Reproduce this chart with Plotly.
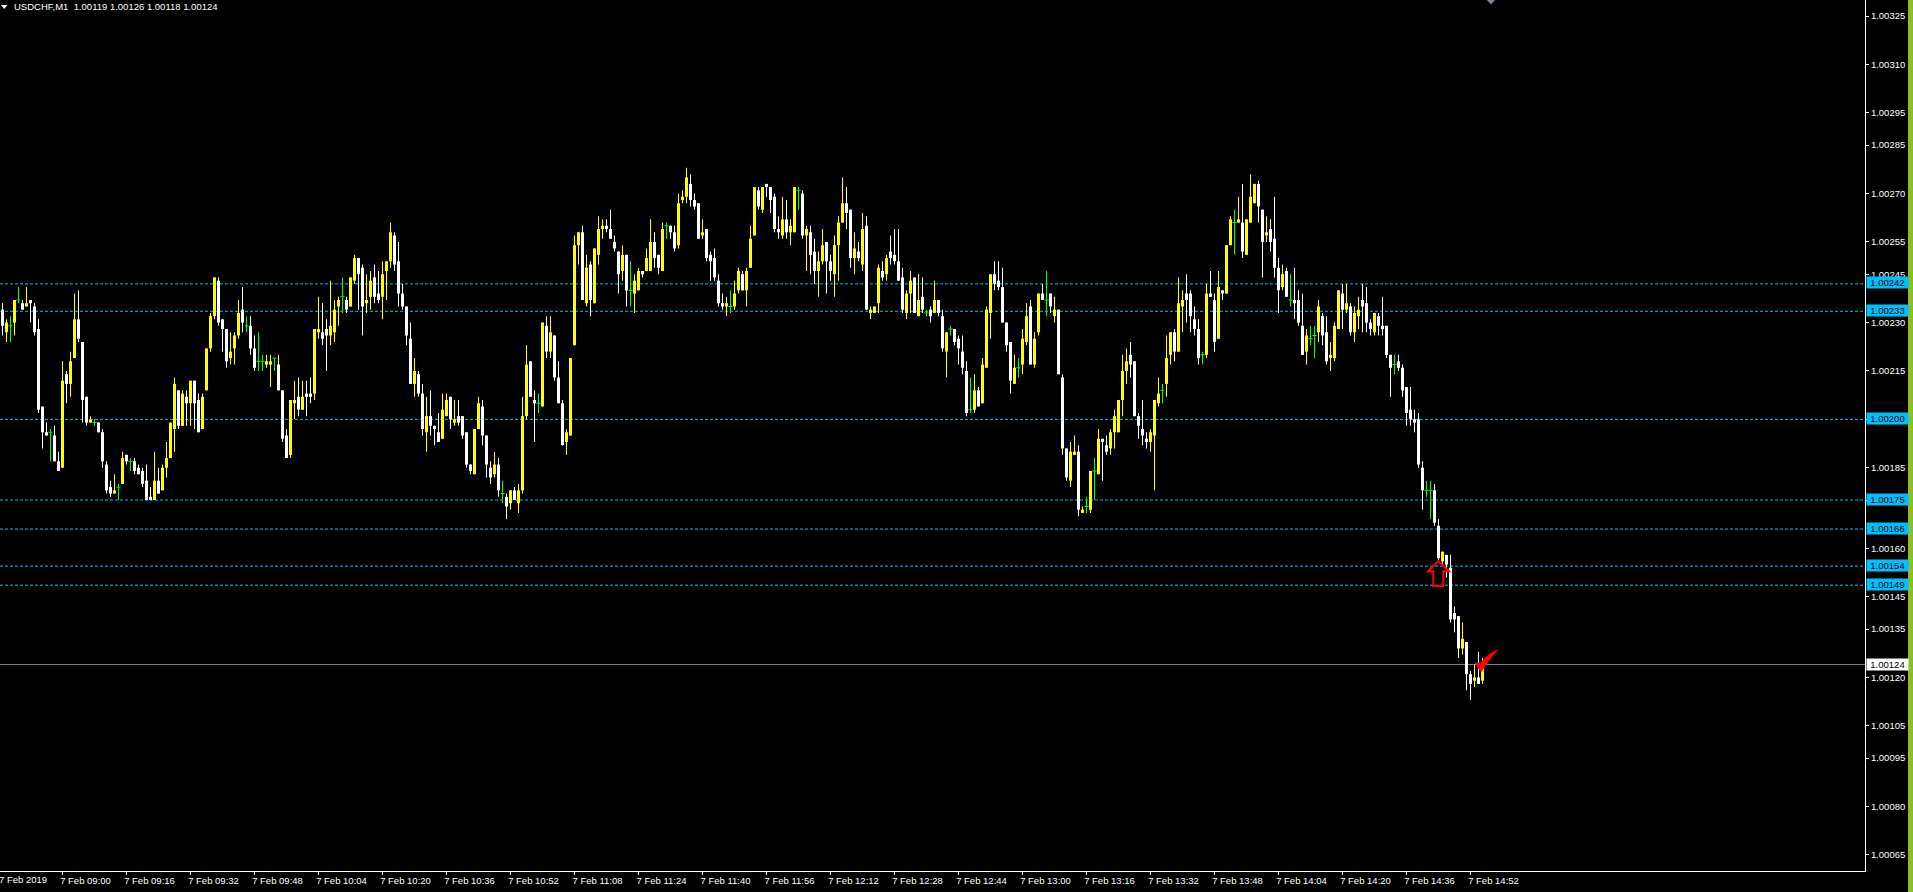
import plotly.graph_objects as go

# Prices in points above 1.00000 (1 point = 0.00001), one value per M1 bar from 08:45
open_pts = [
234,227,229,230,237,236,235,237,235,228, 204,196,196,195,187,185,214,211,219,231,
224,207,199,199,199,196,186,179,177,179, 180,189,187,187,185,184,181,176,175,181,
178,185,188,197,209,198,207,205,212,206, 197,209,222,232,243,231,228,219,222,226,
234,229,229,222,218,218,217,217,219,217, 209,195,189,205,207,203,208,208,208,227,
227,228,226,227,235,238,237,235,243,250, 247,236,238,244,239,238,246,249,257,249,
239,235,225,211,214,208,196,201,198,196, 194,201,207,199,201,201,196,186,183,197,
204,195,185,183,186,177,176,174,178,174, 178,201,218,206,205,204,229,221,226,213,
205,193,195,223,254,258,236,248,236,251, 259,260,259,255,252,246,251,240,239,240,
246,246,246,255,251,246,260,260,258,254, 268,269,273,268,267,257,259,251,250,243,
236,235,235,235,240,245,240,247,257,271, 265,273,272,269,259,257,262,258,258,271,
270,257,258,252,246,249,255,249,245,254, 261,267,265,250,252,248,260,233,233,236,
246,245,252,251,249,244,233,239,244,232, 238,233,234,233,237,232,221,228,228,225,
221,215,203,203,209,205,216,233,245,243, 241,230,224,211,216,217,224,235,217,227,
239,237,239,232,234,213,191,181,189,190, 171,173,172,184,183,194,192,191,196,196,
206,215,220,218,201,197,194,193,195,205, 209,211,220,227,221,235,239,239,231,228,
220,220,239,237,225,240,239,254,261,261, 261,251,261,267,273,265,257,259,256,247,
241,246,237,237,237,229,221,225,226,227, 232,227,219,219,228,239,234,235,227,232,
237,236,230,227,232,229,229,220,217,218, 216,210,203,200,200,185,178,178,178,167,
156,158,154,140,139,129,131,121,119,120,119]
high_pts = [
236,231,232,237,241,237,241,237,236,231, 204,199,197,198,190,218,215,221,239,240,
224,207,201,200,199,197,187,181,183,180, 190,189,188,188,186,185,186,179,190,185,
186,193,199,213,209,209,209,212,212,208, 208,222,233,244,244,231,228,227,227,237,
241,232,232,226,227,220,220,220,219,220, 209,197,206,212,213,212,212,213,228,238,
236,231,243,237,238,244,238,244,251,250, 248,245,246,248,246,249,249,261,258,255,
242,235,230,219,215,211,207,209,198,202, 208,208,207,206,206,201,196,186,197,207,
206,195,187,190,188,181,177,178,179,180, 207,223,218,209,208,230,232,232,226,218,
206,197,219,257,258,260,251,249,253,263, 262,262,265,257,252,254,251,249,245,247,
246,253,262,258,251,261,261,260,260,270, 271,278,276,270,267,262,259,252,253,245,
239,238,240,243,247,246,247,260,272,272, 272,273,272,270,263,269,268,262,272,272,
271,260,260,256,252,259,255,251,257,263, 275,272,265,258,255,264,263,235,235,248,
249,251,257,259,259,247,240,246,244,245, 244,234,235,243,237,234,227,229,228,226,
226,218,213,214,210,219,235,245,249,249, 247,230,224,220,219,228,236,237,227,239,
242,246,239,238,234,214,191,193,195,192, 173,176,184,188,197,194,195,197,203,206,
220,222,224,218,202,206,196,197,206,213, 211,226,227,228,244,240,245,240,235,231,
221,242,246,239,246,240,254,263,265,269, 273,262,276,273,274,265,263,262,269,250,
248,247,245,247,240,239,228,229,229,237, 233,232,224,230,240,242,242,236,235,238,
242,241,231,233,233,238,229,220,220,220, 217,210,210,203,202,187,181,181,180,169,
159,158,158,142,139,137,131,122,124,128,126]
low_pts = [
226,224,224,226,236,234,235,230,226,202, 191,195,187,187,184,185,205,207,219,224,
199,198,199,198,196,185,177,176,177,175, 180,186,184,183,183,179,175,175,175,177,
178,182,188,190,197,198,198,198,197,196, 197,209,221,231,229,221,216,217,217,225,
227,227,220,215,215,215,216,210,215,209, 193,188,188,200,201,203,201,205,206,225,
223,215,223,224,229,233,233,235,242,234, 226,233,234,236,236,231,237,247,246,235,
234,223,211,207,207,195,190,195,192,193, 194,201,197,198,198,194,185,183,183,197,
192,182,180,182,176,174,169,172,175,171, 177,200,207,193,202,204,219,219,212,205,
192,189,195,223,248,237,235,232,236,248, 256,258,256,252,239,243,235,235,233,240,
244,246,246,247,245,246,256,256,252,253, 267,267,266,265,256,256,249,243,243,235,
234,232,233,234,239,240,235,247,257,265, 264,269,264,258,256,256,256,254,258,265,
256,246,245,242,238,248,239,243,238,243, 261,259,247,245,249,246,234,231,233,233,
243,243,248,248,243,233,231,233,233,232, 233,232,230,233,232,221,213,226,223,217,
214,201,202,202,204,205,216,225,240,240, 230,221,208,211,213,214,223,217,216,226,
237,232,233,230,214,189,181,179,189,170, 171,171,171,175,183,181,189,189,191,196,
201,211,213,201,194,192,191,190,178,204, 205,207,217,218,221,227,230,227,226,217,
217,219,238,221,225,237,239,254,251,261, 250,251,261,267,261,244,255,252,244,233,
240,238,235,231,229,220,217,223,219,224, 223,217,215,218,228,228,233,226,224,228,
227,227,226,226,226,226,219,207,214,215, 207,198,198,196,185,172,176,169,167,156,
155,151,137,134,126,127,116,113,117,118,118]
close_pts = [
229,230,229,237,237,234,236,236,227,203, 196,195,196,187,184,212,211,218,231,225,
206,199,200,199,196,187,178,177,178,179, 188,187,187,184,183,180,175,175,181,177,
185,188,199,211,198,208,205,212,205,196, 207,222,232,244,230,228,218,221,226,233,
230,229,222,216,218,218,218,218,219,209, 194,188,206,206,203,207,207,207,228,228,
225,226,229,234,237,238,234,244,250,245, 235,237,243,238,237,245,249,258,248,239,
235,226,211,215,208,197,201,198,197,193, 203,206,200,200,199,195,186,184,197,205,
195,186,182,186,178,177,173,178,175,178, 201,217,207,205,205,230,221,227,213,205,
192,196,219,254,258,237,247,237,253,259, 260,259,256,253,245,251,240,240,243,246,
245,250,255,250,247,259,260,258,253,267, 269,275,268,266,256,258,250,249,244,236,
235,236,235,239,246,240,246,256,272,266, 272,272,268,259,258,262,258,260,272,271,
257,259,251,246,249,254,249,246,254,261, 267,264,250,253,250,259,234,234,235,247,
244,250,250,249,243,234,239,243,233,237, 234,233,232,237,233,222,227,228,224,222,
216,202,203,209,204,217,234,245,242,241, 230,223,212,216,216,225,232,217,225,239,
237,237,235,234,214,191,182,190,190,172, 172,173,184,184,194,193,190,196,201,206,
215,218,217,201,198,195,193,196,206,208, 209,219,227,221,236,237,237,232,228,219,
220,239,238,224,241,239,254,262,261,262, 252,262,269,273,266,255,258,255,247,240,
245,238,237,236,230,220,226,225,226,235, 226,218,220,229,240,234,236,227,233,234,
235,230,228,233,229,228,220,216,217,216, 209,202,200,199,186,178,178,178,168,157,
159,155,138,138,129,132,121,118,120,118,124]

# Time axis: bar index of each labelled tick
x_tick_bars = [15,31,47,63,79,95,111,127,143,159,175,191,207,223,239,255,271,287,303,319,335,351,367]
x_tick_text = ["7 Feb 09:00","7 Feb 09:16","7 Feb 09:32","7 Feb 09:48","7 Feb 10:04","7 Feb 10:20",
               "7 Feb 10:36","7 Feb 10:52","7 Feb 11:08","7 Feb 11:24","7 Feb 11:40","7 Feb 11:56",
               "7 Feb 12:12","7 Feb 12:28","7 Feb 12:44","7 Feb 13:00","7 Feb 13:16","7 Feb 13:32",
               "7 Feb 13:48","7 Feb 14:04","7 Feb 14:20","7 Feb 14:36","7 Feb 14:52"]
first_date_label = "7 Feb 2019"

y_tick_labels = ["1.00325","1.00310","1.00295","1.00285","1.00270","1.00255","1.00245","1.00230",
                 "1.00215","1.00200","1.00185","1.00175","1.00160","1.00145","1.00135","1.00120",
                 "1.00105","1.00095","1.00080","1.00065"]
level_values = [1.00242, 1.002335, 1.00200, 1.00175, 1.00166, 1.001545, 1.001486]
level_labels = ["1.00242","1.00233","1.00200","1.00175","1.00166","1.00154","1.00149"]
last_price_label = "1.00124"
header_text = "USDCHF,M1\u00a0\u00a01.00119 1.00126 1.00118 1.00124"

BULL, BEAR, DOJI = "#FFFF00", "#FFFFFF", "#00FF00"
LEVEL = "#00BFFF"
FONT = "Liberation Sans"
W, H = 1913, 892
PLOT_W, PLOT_H = 1865, 871

def price(p):
    return round(1 + p * 1e-5, 5)

def px(x):
    return x / PLOT_W

def py(y):
    return 1 - y / PLOT_H

def poly(points):
    return "M" + " L".join(f"{px(x)},{py(y)}" for x, y in points) + " Z"

n = len(close_pts)
idx = list(range(n))
colors = [BULL if c > o else BEAR if c < o else DOJI for o, c in zip(open_pts, close_pts)]
body_idx = [i for i in idx if close_pts[i] != open_pts[i]]
doji_idx = [i for i in idx if close_pts[i] == open_pts[i]]

fig = go.Figure()
fig.add_trace(go.Bar(x=idx, base=[price(v) for v in low_pts],
                     y=[price(h) - price(l) for h, l in zip(high_pts, low_pts)],
                     width=0.25, marker=dict(color=colors, line_width=0), hoverinfo="skip"))
fig.add_trace(go.Bar(x=body_idx, base=[price(min(open_pts[i], close_pts[i])) for i in body_idx],
                     y=[abs(price(close_pts[i]) - price(open_pts[i])) for i in body_idx],
                     width=0.75, marker=dict(color=[colors[i] for i in body_idx], line_width=0),
                     hoverinfo="skip"))
fig.add_trace(go.Scatter(x=doji_idx, y=[price(close_pts[i]) for i in doji_idx], mode="markers",
                         marker=dict(symbol="line-ew", size=3, line=dict(color=DOJI, width=1)),
                         hoverinfo="skip", cliponaxis=False))

shapes = []
annotations = []
label_font = dict(family=FONT, size=9.5, color="#000000")
for v, lab in zip(level_values, level_labels):
    shapes.append(dict(type="line", xref="paper", x0=0, x1=1, yref="y", y0=v, y1=v, layer="below",
                       line=dict(color=LEVEL, width=1, dash="3px,2px")))
    annotations.append(dict(xref="paper", yref="y", x=px(1866), y=v, text=lab, xanchor="left", yanchor="middle",
                            showarrow=False, width=41, height=11, bgcolor=LEVEL, borderpad=0, yshift=1,
                            align="center", font=label_font))
v = float(last_price_label)
shapes.append(dict(type="line", xref="paper", x0=0, x1=1, yref="y", y0=v, y1=v, layer="below",
                   line=dict(color="#778899", width=1)))
annotations.append(dict(xref="paper", yref="y", x=px(1866), y=v, text=last_price_label, xanchor="left",
                        yanchor="middle", showarrow=False, width=41, height=11, bgcolor="#FFFFFF", borderpad=0,
                        align="center", font=label_font))

# Right edge stripe
shapes.append(dict(type="rect", xref="paper", yref="paper", x0=px(1908), x1=px(1913), y0=py(H), y1=1,
                   fillcolor="#8CBF26", line_width=0, layer="above"))
# Header triangle and top marker
shapes.append(dict(type="path", xref="paper", yref="paper", path=poly([(1, 5), (7.5, 5), (4.2, 9)]),
                   fillcolor="#FFFFFF", line_width=0))
shapes.append(dict(type="path", xref="paper", yref="paper", path=poly([(1487, 0), (1495, 0), (1491, 4.5)]),
                   fillcolor="#778899", line_width=0))
# Hand-drawn red arrow and tick
shapes.append(dict(type="path", xref="paper", yref="paper",
                   path=poly([(1438.3, 561), (1428, 571.3), (1433.3, 571.3), (1433.3, 586), (1443.3, 586),
                              (1443.3, 571.3), (1449, 571.3)]),
                   line=dict(color="#FF0000", width=2), fillcolor="rgba(0,0,0,0)"))
shapes.append(dict(type="path", xref="paper", yref="paper",
                   path=poly([(1474.7, 662.3), (1480, 663.3), (1482, 660.7), (1490, 653.3), (1499, 649),
                              (1492.7, 656), (1486, 665), (1481, 672.7), (1477.3, 667.3)]),
                   fillcolor="#FF0000", line_width=0))

annotations.append(dict(xref="paper", yref="paper", x=px(13), y=py(6.5), text=header_text, xanchor="left",
                        yanchor="middle", showarrow=False, borderpad=0,
                        font=dict(family=FONT, size=9.5, color="#FFFFFF")))
annotations.append(dict(xref="paper", yref="paper", x=px(-2), y=py(879.5), text=first_date_label, xanchor="left",
                        yanchor="middle", showarrow=False, borderpad=0,
                        font=dict(family=FONT, size=9.5, color="#FFFFFF")))

fig.update_layout(
    width=W, height=H, autosize=False,
    margin=dict(l=0, r=W - PLOT_W, t=0, b=H - PLOT_H, pad=0),
    paper_bgcolor="#000000", plot_bgcolor="#000000",
    barmode="overlay", showlegend=False, hovermode=False,
    shapes=shapes, annotations=annotations,
    xaxis=dict(range=[-0.625, -0.625 + PLOT_W / 4], tickmode="array", tickvals=x_tick_bars, ticktext=x_tick_text,
               ticks="outside", ticklen=3, tickwidth=1, tickcolor="#FFFFFF", showgrid=False, zeroline=False,
               showline=True, linecolor="#FFFFFF", linewidth=1, ticklabelshift=23, ticklabelstandoff=-2,
               tickangle=0, tickfont=dict(family=FONT, size=9.5, color="#FFFFFF")),
    yaxis=dict(range=[1.0006, 1.0033], side="right", tickmode="array",
               tickvals=[float(t) for t in y_tick_labels], ticktext=y_tick_labels,
               ticks="outside", ticklen=3, tickwidth=1, tickcolor="#FFFFFF", showgrid=False, zeroline=False,
               showline=True, linecolor="#FFFFFF", linewidth=1,
               tickfont=dict(family=FONT, size=9.5, color="#FFFFFF")),
)

fig.write_html("out.html", config=dict(displayModeBar=False),
               post_script="document.body.style.margin='0';document.documentElement.style.overflow='hidden';document.body.style.background='#000';")
